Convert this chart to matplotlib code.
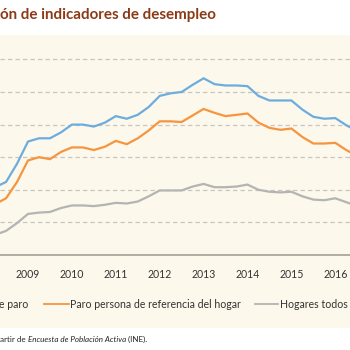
import matplotlib
matplotlib.use('Agg')
import matplotlib.pyplot as plt
from matplotlib.lines import Line2D
from matplotlib.patches import Rectangle

# datos trimestrales (%), 2008T2 - 2016T3
trimestres = [2008.25 + 0.25 * i for i in range(34)]
tasa_paro = [10.4, 11.2, 14.0, 17.4, 17.9, 17.9, 18.8, 20.0, 20.0, 19.7, 20.3,
             21.3, 20.9, 21.5, 22.7, 24.4, 24.8, 25.0, 26.1, 27.1, 26.2, 26.0,
             26.0, 25.9, 24.4, 23.7, 23.7, 23.7, 22.3, 21.2, 20.9, 21.0, 19.9, 19.0]
paro_ref = [7.8, 8.7, 11.2, 14.5, 15.0, 14.7, 15.8, 16.5, 16.5, 16.1, 16.6,
            17.5, 17.0, 17.9, 19.1, 20.5, 20.5, 20.4, 21.4, 22.4, 21.8, 21.3,
            21.5, 21.7, 20.3, 19.5, 19.2, 19.4, 18.1, 17.1, 17.1, 17.2, 16.1, 15.2]
hogares_parados = [3.1, 3.7, 4.9, 6.3, 6.5, 6.6, 7.2, 7.6, 7.6, 7.5, 7.7,
                   8.0, 7.9, 8.2, 9.0, 9.9, 9.9, 9.9, 10.5, 10.9, 10.4, 10.4,
                   10.5, 10.8, 10.0, 9.7, 9.6, 9.7, 9.0, 8.5, 8.4, 8.7, 8.1, 7.5]
anios = [2009, 2010, 2011, 2012, 2013, 2014, 2015, 2016]
# etiquetas tal como se ven (recortadas por el borde)
etiquetas = ['e paro', 'Paro persona de referencia del hogar', 'Hogares todos']
colores = ['#6cadde', '#f5953f', '#b4b4b4']

plt.rcParams['font.family'] = ['Lato', 'DejaVu Sans']

fig = plt.figure(figsize=(3.5, 3.5), dpi=100)
W = 350.0

# fondo beige del recuadro
fig.patches.append(Rectangle((0, 1 - 328 / W), 1, (328 - 35) / W, transform=fig.transFigure,
                             facecolor='#fdf8ec', edgecolor='none', zorder=-10))

ax = fig.add_axes([0, 1 - 255 / W, 1, (255 - 35) / W])
ax.set_facecolor('none')
ppy = 43.9
ax.set_xlim(2009 - 28 / ppy, 2009 + 322 / ppy)
ax.set_ylim(0, 220 / 6.52)

for y in range(5, 35, 5):
    ax.axhline(y, color='#c9c6c0', lw=0.9, ls=(0, (3.5, 2.5)), zorder=1)

for serie, c in zip([tasa_paro, paro_ref, hogares_parados], colores):
    ax.plot(trimestres, serie, color=c, lw=1.6, zorder=3, solid_joinstyle='miter')

for s in ['top', 'right', 'left']:
    ax.spines[s].set_visible(False)
ax.spines['bottom'].set_color('#9b9890')
ax.spines['bottom'].set_linewidth(1.1)
ax.set_yticks([])
ax.set_xticks(anios)
ax.set_xticklabels([str(a) for a in anios], fontsize=7.6, color='#333333')
ax.tick_params(axis='x', length=0, pad=10)

# titulo (recortado)
fig.text(0, 1 - 15 / W, 'ón de indicadores de desempleo', fontsize=10.9, fontweight='bold',
         color='#8c3a16', ha='left', va='center')

# leyenda
ly = 1 - 304 / W
fig.text(28 / W, ly, etiquetas[0], fontsize=7.6, color='#333333', ha='right', va='center')
fig.lines.append(Line2D([44 / W, 69 / W], [ly, ly], transform=fig.transFigure,
                        color=colores[1], lw=1.3))
fig.text(70 / W, ly, etiquetas[1], fontsize=7.6, color='#333333', ha='left', va='center')
fig.lines.append(Line2D([255 / W, 278 / W], [ly, ly], transform=fig.transFigure,
                        color=colores[2], lw=1.3))
fig.text(280 / W, ly, etiquetas[2], fontsize=7.6, color='#333333', ha='left', va='center')

# fuente
r = fig.canvas.get_renderer()
sy = 1 - 339 / W
x0 = 0
for txt, st in [('artir de ', 'normal'), ('Encuesta de Población Activa', 'italic'), (' (INE).', 'normal')]:
    t = fig.text(x0, sy, txt, fontsize=5.8, style=st, color='#222222', ha='left', va='center')
    x0 += t.get_window_extent(r).width / W

fig.savefig('out.png', dpi=100)
